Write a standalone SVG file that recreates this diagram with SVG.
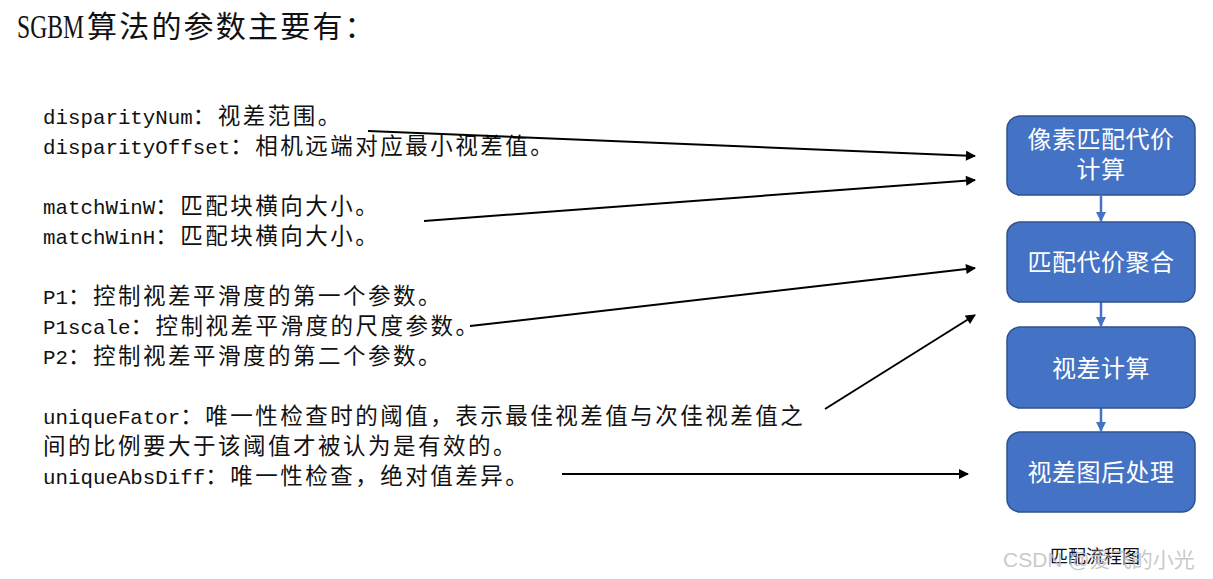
<svg xmlns="http://www.w3.org/2000/svg" width="1213" height="579" viewBox="0 0 1213 579">
<style>
.t{font-family:"Liberation Mono","Noto Sans CJK SC",monospace;font-size:20.8px;fill:#111}
.cj{font-family:"Noto Sans CJK SC",sans-serif;font-size:22.5px;letter-spacing:2.5px}
.box{fill:#4472C4;stroke:#2F528F;stroke-width:1.5}
.bt{font-family:"Noto Sans CJK SC",sans-serif;font-size:24px;fill:#fff;text-anchor:middle;letter-spacing:0.5px}
.conn{stroke:#000;stroke-width:2;fill:none}
.flow{stroke:#4472C4;stroke-width:2.5;fill:none}
</style>
<defs>
<marker id="ah" viewBox="0 0 10 10" refX="9" refY="5" markerWidth="5.5" markerHeight="5" orient="auto" markerUnits="strokeWidth"><path d="M0,0L10,5L0,10z" fill="#000"/></marker>
<marker id="bh" viewBox="0 0 10 10" refX="9" refY="5" markerWidth="4" markerHeight="4" orient="auto" markerUnits="strokeWidth"><path d="M0,0L10,5L0,10z" fill="#4472C4"/></marker>
</defs>
<rect width="1213" height="579" fill="#fff"/>
<g id="title">
<text x="17" y="38" font-family="Liberation Serif,serif" font-size="34" textLength="67" lengthAdjust="spacingAndGlyphs" fill="#111">SGBM</text>
<text x="87" y="37" font-family="Noto Sans CJK SC,sans-serif" font-size="30" letter-spacing="2.2" fill="#111">算法的参数主要有：</text>
</g>
<g id="params">
<text class="t" x="43" y="124">disparityNum<tspan class="cj">：视差范围。</tspan></text>
<text class="t" x="43" y="154">disparityOffset<tspan class="cj">：相机远端对应最小视差值。</tspan></text>
<text class="t" x="43" y="214">matchWinW<tspan class="cj">：匹配块横向大小。</tspan></text>
<text class="t" x="43" y="244">matchWinH<tspan class="cj">：匹配块横向大小。</tspan></text>
<text class="t" x="43" y="304">P1<tspan class="cj">：控制视差平滑度的第一个参数。</tspan></text>
<text class="t" x="43" y="334">P1scale<tspan class="cj">：控制视差平滑度的尺度参数。</tspan></text>
<text class="t" x="43" y="364">P2<tspan class="cj">：控制视差平滑度的第二个参数。</tspan></text>
<text class="t" x="43" y="424">uniqueFator<tspan class="cj">：唯一性检查时的阈值，表示最佳视差值与次佳视差值之</tspan></text>
<text class="t" x="43" y="454"><tspan class="cj">间的比例要大于该阈值才被认为是有效的。</tspan></text>
<text class="t" x="43" y="484">uniqueAbsDiff<tspan class="cj">：唯一性检查，绝对值差异。</tspan></text>
</g>
<g id="connectors">
<line class="conn" x1="368" y1="131" x2="975" y2="156" marker-end="url(#ah)"/>
<line class="conn" x1="424" y1="221" x2="975" y2="180" marker-end="url(#ah)"/>
<line class="conn" x1="470" y1="326" x2="975" y2="268" marker-end="url(#ah)"/>
<line class="conn" x1="825" y1="409" x2="975" y2="315" marker-end="url(#ah)"/>
<line class="conn" x1="562" y1="474" x2="968" y2="474" marker-end="url(#ah)"/>
<line class="flow" x1="1101" y1="196" x2="1101" y2="221" marker-end="url(#bh)"/>
<line class="flow" x1="1101" y1="302" x2="1101" y2="326" marker-end="url(#bh)"/>
<line class="flow" x1="1101" y1="408" x2="1101" y2="431" marker-end="url(#bh)"/>
</g>
<g id="n1"><rect class="box" x="1007" y="116" width="188" height="79" rx="13"/><text class="bt" x="1101" y="148">像素匹配代价</text><text class="bt" x="1101" y="178">计算</text></g>
<g id="n2"><rect class="box" x="1007" y="222" width="188" height="80" rx="13"/><text class="bt" x="1101" y="271">匹配代价聚合</text></g>
<g id="n3"><rect class="box" x="1007" y="327" width="188" height="81" rx="13"/><text class="bt" x="1101" y="377">视差计算</text></g>
<g id="n4"><rect class="box" x="1007" y="432" width="188" height="80" rx="13"/><text class="bt" x="1101" y="481">视差图后处理</text></g>
<g id="caption">
<text x="1050" y="563" font-family="Noto Sans CJK SC,sans-serif" font-size="18" fill="#111">匹配流程图</text>
<text x="1003" y="567" font-family="Liberation Sans,Noto Sans CJK SC,sans-serif" font-size="21" fill="#bbb" fill-opacity="0.8">CSDN @爱飞的小光</text>
</g>
</svg>
